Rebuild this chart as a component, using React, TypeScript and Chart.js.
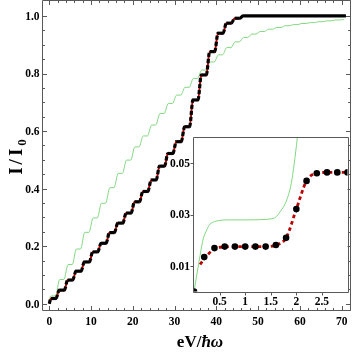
import React, { useEffect, useRef } from "react";
import { Chart, registerables } from "chart.js";

Chart.register(...registerables);

// ---------------- main plot data ----------------
const plateauX = [1, 3, 5, 7, 9, 11, 13, 15, 17, 19, 21, 23, 25, 27, 29, 31, 33, 35, 37, 39, 41, 43, 45, 47, 49, 51, 53, 55, 57, 59, 61, 63, 65, 67, 69, 71];
const blackLevels = [0.018, 0.047, 0.082, 0.113, 0.145, 0.18, 0.21, 0.247, 0.28, 0.315, 0.354, 0.39, 0.43, 0.478, 0.522, 0.563, 0.615, 0.708, 0.795, 0.876, 0.94, 0.975, 0.992, 1.0, 1.0, 1.0, 1.0, 1.0, 1.0, 1.0, 1.0, 1.0, 1.0, 1.0, 1.0, 1.0];
const greenLevels = [0.027, 0.084, 0.136, 0.19, 0.248, 0.298, 0.349, 0.403, 0.453, 0.499, 0.545, 0.583, 0.621, 0.661, 0.696, 0.725, 0.752, 0.783, 0.812, 0.84, 0.865, 0.89, 0.91, 0.925, 0.937, 0.946, 0.954, 0.96, 0.966, 0.97, 0.974, 0.977, 0.98, 0.983, 0.986, 0.988];
const blackHeadX = [0];
const blackHeadY = [0];
const greenHeadX = [0, 0.15, 0.3];
const greenHeadY = [0, 0.0175, 0.026];
const blackEndX = 71;
const greenEndX = 70.6;

const mainXTicks = [0, 10, 20, 30, 40, 50, 60, 70];
const mainXTickLabels = ["0", "10", "20", "30", "40", "50", "60", "70"];
const mainYTicks = [0, 0.2, 0.4, 0.6, 0.8, 1.0];
const mainYTickLabels = ["0.0", "0.2", "0.4", "0.6", "0.8", "1.0"];

// ---------------- inset data ----------------
const insetX = [0, 0.2, 0.4, 0.6, 0.8, 1.0, 1.2, 1.4, 1.6, 1.8, 2.0, 2.2, 2.4, 2.6, 2.8, 3.0];
const insetBlack = [0, 0.0134, 0.0169, 0.0175, 0.0175, 0.0175, 0.0175, 0.0175, 0.0181, 0.0209, 0.0321, 0.0431, 0.0461, 0.0464, 0.0464, 0.0464];
const insetRedX = [0.12, 0.2, 0.4, 0.6, 0.8, 1.0, 1.2, 1.4, 1.6, 1.8, 2.0, 2.2, 2.4, 2.6, 2.8, 3.0];
const insetRedY = [0.0105, 0.0128, 0.0166, 0.0174, 0.0175, 0.0175, 0.0175, 0.0175, 0.0181, 0.0209, 0.0321, 0.0431, 0.0461, 0.0464, 0.0464, 0.0464];
const insetGreenX = [0, 0.05, 0.1, 0.137, 0.18, 0.25, 0.31, 0.4, 0.5, 0.7, 1.0, 1.3, 1.5, 1.6, 1.68, 1.8, 1.9, 1.96, 2.02, 2.1];
const insetGreenY = [0, 0.006, 0.0118, 0.0162, 0.0205, 0.024, 0.0262, 0.0272, 0.0277, 0.0279, 0.0279, 0.028, 0.0283, 0.029, 0.031, 0.035, 0.042, 0.05, 0.06, 0.075];

const insetXTicks = [0.5, 1, 1.5, 2, 2.5];
const insetXTickLabels = ["0.5", "1", "1.5", "2", "2.5"];
const insetYTicks = [0.01, 0.03, 0.05];
const insetYTickLabels = ["0.01", "0.03", "0.05"];

// ---------------- styles ----------------
const FONT = "'Liberation Serif', 'Times New Roman', Times, serif";
const FRAME = "#595959";
const GREEN = "#82d882";
const RED = "#bb0000";

function buildSteps(levels: number[], half: number, hx: number[], hy: number[], endX: number) {
  const pts: { x: number; y: number }[] = hx.map((x, i) => ({ x, y: hy[i] }));
  levels.forEach((v, i) => {
    const c = plateauX[i];
    pts.push({ x: c - half, y: v });
    pts.push({ x: Math.min(c + half, endX), y: v });
  });
  return pts;
}

const crisp = (v: number) => Math.round(v) + 0.5;

const mainDecor = {
  id: "mainDecor",
  afterDraw(chart: any) {
    const { ctx, chartArea: a, scales } = chart;
    const x = scales.x, y = scales.y;
    ctx.save();
    ctx.strokeStyle = FRAME;
    ctx.lineWidth = 1;
    const L = Math.round(a.left) - 0.5, R = Math.round(a.right) + 0.5;
    const T = Math.round(a.top) - 0.5, B = Math.round(a.bottom) + 0.5;
    ctx.beginPath();
    ctx.rect(L, T, R - L, B - T);
    const tickY = (v: number, len: number) => {
      const py = crisp(y.getPixelForValue(v));
      ctx.moveTo(L, py); ctx.lineTo(L + len, py);
      ctx.moveTo(R, py); ctx.lineTo(R - len, py);
    };
    const tickX = (v: number, len: number) => {
      const px = crisp(x.getPixelForValue(v));
      ctx.moveTo(px, B); ctx.lineTo(px, B - len);
      ctx.moveTo(px, T); ctx.lineTo(px, T + len);
    };
    mainYTicks.forEach((v) => tickY(v, 4.5));
    for (let k = 1; k <= 20; k++) if (k % 4 !== 0) tickY(k * 0.05, 2.5);
    mainXTicks.forEach((v) => tickX(v, 4.5));
    for (let k = 1; k <= 36; k++) if (k % 5 !== 0) tickX(k * 2, 2.5);
    ctx.stroke();

    ctx.fillStyle = "#000";
    ctx.font = `bold 11.5px ${FONT}`;
    ctx.textAlign = "right";
    ctx.textBaseline = "middle";
    mainYTicks.forEach((v, i) => ctx.fillText(mainYTickLabels[i], a.left - 3.5, y.getPixelForValue(v) + 1));
    ctx.textAlign = "center";
    mainXTicks.forEach((v, i) => ctx.fillText(mainXTickLabels[i], x.getPixelForValue(v), a.bottom + 12));

    // x title: eV/ħω
    ctx.textAlign = "left";
    ctx.textBaseline = "alphabetic";
    const up = `bold 17px ${FONT}`;
    const it = `italic bold 17px ${FONT}`;
    ctx.font = up;
    const w1 = ctx.measureText("eV/").width;
    ctx.font = it;
    const w2 = ctx.measureText("ħω").width;
    const sx = 200 - (w1 + w2) / 2;
    const by = 347;
    ctx.font = up;
    ctx.fillText("eV/", sx, by);
    ctx.font = it;
    ctx.fillText("ħω", sx + w1, by);

    // y title: I/I0 (spaced glyphs)
    ctx.translate(22, 157);
    ctx.rotate(-Math.PI / 2);
    const big = `bold 19px ${FONT}`;
    const small = `bold 13px ${FONT}`;
    const parts: [string, string, number][] = [["I", big, 0], ["/", big, 0], ["I", big, 0], ["0", small, 4]];
    const gap = 3;
    let tot = 0;
    parts.forEach(([t, f]) => { ctx.font = f; tot += ctx.measureText(t).width; });
    tot += gap * (parts.length - 1);
    let cx = -tot / 2;
    parts.forEach(([t, f, dy]) => {
      ctx.font = f;
      ctx.fillText(t, cx, dy);
      cx += ctx.measureText(t).width + gap;
    });
    ctx.restore();
  },
};

const insetDecor = {
  id: "insetDecor",
  beforeDatasetsDraw(chart: any) {
    const { ctx, chartArea: a } = chart;
    ctx.save();
    ctx.fillStyle = "#fff";
    ctx.fillRect(a.left, a.top, a.right - a.left, a.bottom - a.top);
    ctx.restore();
  },
  afterDraw(chart: any) {
    const { ctx, chartArea: a, scales } = chart;
    const x = scales.x, y = scales.y;
    ctx.save();
    ctx.strokeStyle = FRAME;
    ctx.lineWidth = 1;
    const L = Math.round(a.left) - 0.5, R = Math.round(a.right) + 0.5;
    const T = Math.round(a.top) - 0.5, B = Math.round(a.bottom) + 0.5;
    ctx.beginPath();
    ctx.rect(L, T, R - L, B - T);
    insetYTicks.forEach((v) => {
      const py = crisp(y.getPixelForValue(v));
      ctx.moveTo(L, py); ctx.lineTo(L - 3, py);
    });
    insetXTicks.forEach((v) => {
      const px = crisp(x.getPixelForValue(v));
      ctx.moveTo(px, B); ctx.lineTo(px, B + 3);
    });
    ctx.stroke();
    ctx.fillStyle = "#000";
    ctx.font = `bold 11.5px ${FONT}`;
    ctx.textAlign = "right";
    ctx.textBaseline = "middle";
    insetYTicks.forEach((v, i) => ctx.fillText(insetYTickLabels[i], a.left - 4, y.getPixelForValue(v) + 1));
    ctx.textAlign = "center";
    insetXTicks.forEach((v, i) => ctx.fillText(insetXTickLabels[i], x.getPixelForValue(v), a.bottom + 11));
    ctx.restore();
  },
};

function makeMain(canvas: HTMLCanvasElement) {
  const blackPts = buildSteps(blackLevels, 0.6, blackHeadX, blackHeadY, blackEndX);
  const redPts = buildSteps(blackLevels, 0.6, blackHeadX, blackHeadY, blackEndX);
  const greenPts = buildSteps(greenLevels, 0.5, greenHeadX, greenHeadY, greenEndX);
  return new Chart(canvas, {
    type: "line",
    data: {
      datasets: [
        {
          label: "black",
          data: blackPts,
          borderColor: "#000",
          borderWidth: 3.2,
          pointRadius: 0,
          cubicInterpolationMode: "monotone",
          order: 1,
          segment: {
            borderDash: (c: any) => (Math.abs(c.p0.parsed.y - c.p1.parsed.y) > 1e-9 ? [4, 2] : undefined),
          },
        } as any,
        {
          label: "red",
          data: redPts,
          borderColor: RED,
          borderWidth: 2,
          pointRadius: 0,
          cubicInterpolationMode: "monotone",
          order: 2,
        },
        {
          label: "green",
          data: greenPts,
          borderColor: GREEN,
          borderWidth: 1,
          pointRadius: 0,
          cubicInterpolationMode: "monotone",
          order: 3,
        },
      ],
    },
    options: {
      animation: false,
      responsive: false,
      events: [],
      layout: { padding: { left: 43, top: 1, right: 3, bottom: 42 } },
      scales: {
        x: { type: "linear", min: -1.5, max: 72, display: false },
        y: { type: "linear", min: -0.022, max: 1.052, display: false },
      },
      plugins: { legend: { display: false }, tooltip: { enabled: false } },
    },
    plugins: [mainDecor],
  } as any);
}

function makeInset(canvas: HTMLCanvasElement) {
  return new Chart(canvas, {
    type: "line",
    data: {
      datasets: [
        {
          label: "dots",
          data: insetX.map((x, i) => ({ x, y: insetBlack[i] })),
          showLine: false,
          pointRadius: 3.3,
          pointBackgroundColor: "#000",
          pointBorderWidth: 0,
          order: 1,
        },
        {
          label: "red",
          data: insetRedX.map((x, i) => ({ x, y: insetRedY[i] })),
          borderColor: RED,
          borderWidth: 2.8,
          borderDash: [3.5, 3],
          pointRadius: 0,
          cubicInterpolationMode: "monotone",
          order: 2,
        },
        {
          label: "green",
          data: insetGreenX.map((x, i) => ({ x, y: insetGreenY[i] })),
          borderColor: GREEN,
          borderWidth: 1,
          pointRadius: 0,
          cubicInterpolationMode: "monotone",
          order: 3,
        },
      ],
    },
    options: {
      animation: false,
      responsive: false,
      events: [],
      layout: { padding: { left: 34, top: 9.5, right: 5.5, bottom: 20.5 } },
      scales: {
        x: { type: "linear", min: 0, max: 3, display: false },
        y: { type: "linear", min: 0, max: 0.06, display: false },
      },
      plugins: { legend: { display: false }, tooltip: { enabled: false } },
    },
    plugins: [insetDecor],
  } as any);
}

export default function App() {
  const mainRef = useRef<HTMLCanvasElement>(null);
  const insetRef = useRef<HTMLCanvasElement>(null);
  useEffect(() => {
    const charts = [makeMain(mainRef.current!), makeInset(insetRef.current!)];
    return () => charts.forEach((c) => c.destroy());
  }, []);
  return (
    <div style={{ position: "absolute", left: 0, top: 0, width: 353, height: 352, background: "#fff" }}>
      <canvas ref={mainRef} width={353} height={352} style={{ position: "absolute", left: 0, top: 0, width: 353, height: 352 }} />
      <canvas ref={insetRef} width={193} height={184} style={{ position: "absolute", left: 160, top: 128, width: 193, height: 184 }} />
    </div>
  );
}
